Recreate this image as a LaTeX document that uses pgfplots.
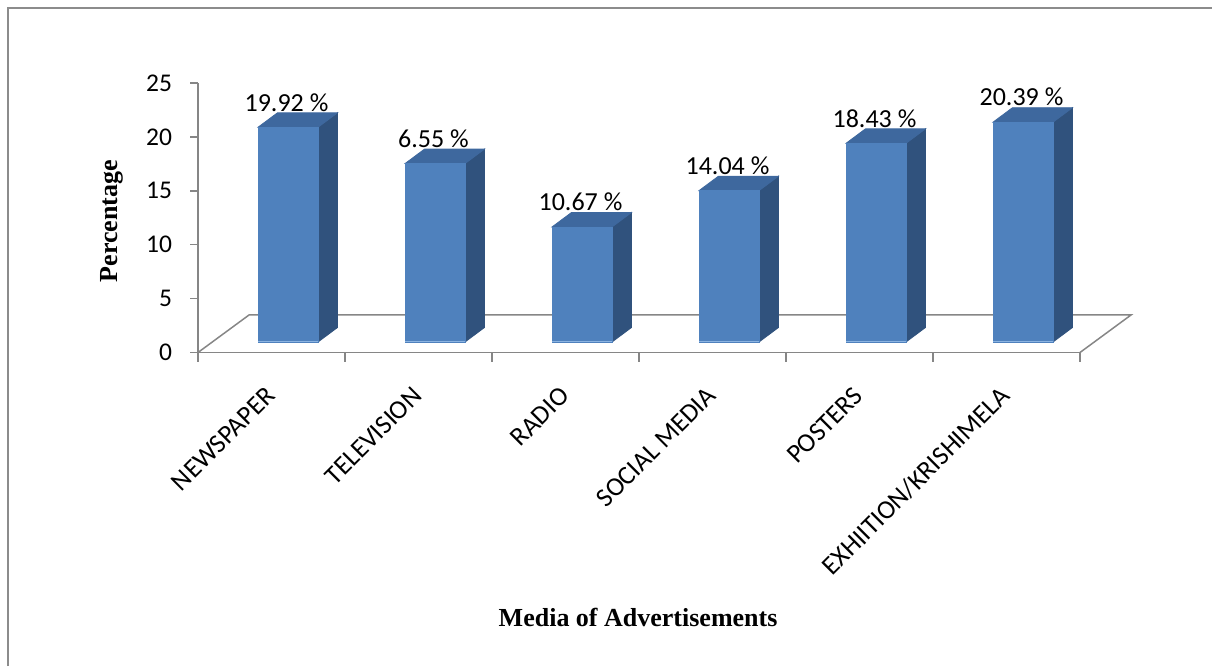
\documentclass[border=0pt]{standalone}
\usepackage{pgfplots}
\pgfplotsset{compat=1.18}
\usepackage{pgfplotstable}
\usepackage{fontspec}
\setmainfont{Carlito}
\newfontfamily\timesfont{Liberation Serif}
\definecolor{barfront}{RGB}{79,129,189}
\definecolor{bartop}{RGB}{62,104,158}
\definecolor{barside}{RGB}{48,82,125}
\definecolor{barlight}{RGB}{140,180,225}
\definecolor{axgray}{RGB}{134,134,134}
\definecolor{framegray}{RGB}{140,140,140}
\pgfdeclareplotmark{blank}{}

\pgfplotstableread{
x y lab
0 19.92 {19.92 \%}
1 16.55 {6.55 \%}
2 10.67 {10.67 \%}
3 14.04 {14.04 \%}
4 18.43 {18.43 \%}
5 20.39 {20.39 \%}
}\datatable

\begin{document}
\begin{tikzpicture}
\useasboundingbox (0,0) rectangle (606pt,333pt);
\draw[framegray, line width=1pt] (4pt,0) -- (4pt,329pt) -- (606pt,329pt);
\begin{axis}[
  at={(99pt,156.75pt)}, anchor=south west,
  scale only axis, width=441pt, height=134.75pt,
  xmin=-0.5, xmax=5.5, ymin=0, ymax=25,
  axis x line=bottom, axis y line=left,
  axis line style={-, draw=axgray, line width=0.75pt},
  tick align=outside,
  tick style={axgray, line width=0.75pt},
  ytick={0,5,...,25},
  major tick length=4pt,
  xtick={0,...,5},
  xticklabels={NEWSPAPER, TELEVISION, RADIO, SOCIAL MEDIA, POSTERS, EXHIITION/KRISHIMELA},
  major x tick style={draw=none},
  minor xtick={-0.5,0.5,...,5.5},
  minor tick length=4.5pt,
  xticklabel style={xshift=2pt, yshift=-13pt, rotate=45, anchor=east, font=\fontsize{13.25}{15}\selectfont},
  yticklabel style={xshift=-5.5pt, font=\fontsize{12.75}{15}\selectfont},
  /pgf/number format/assume math mode=true,
  xlabel={\timesfont\bfseries Media of Advertisements},
  ylabel={\timesfont\bfseries Percentage},
  xlabel style={at={(axis description cs:0.499,-0.983)}, anchor=center, font=\fontsize{13}{15}\selectfont},
  ylabel style={at={(axis description cs:-0.0975,0.488)}, anchor=center, font=\fontsize{13}{15}\selectfont},
  clip=false,
]
\draw[axgray, line width=0.75pt] (axis cs:-0.5,0) -- (axis cs:-0.153,3.48) -- (axis cs:5.847,3.48) -- (axis cs:5.5,0);
\addplot[scatter, only marks, mark=blank,
  visualization depends on={\thisrow{y} \as \hval},
  scatter/@pre marker code/.code={%
    \pgfmathsetmacro\hh{\hval*5.39}%
    \pgfmathsetmacro\yb{5.25-\hh}%
    \pgfmathsetmacro\ybb{\yb+7.25}%
    \pgfmathsetmacro\ybl{\yb+0.4}%
    \fill[barside] (23.25pt,\yb pt) -- (33pt,\ybb pt) -- (33pt,12.5pt) -- (23.25pt,5.25pt) -- cycle;
    \fill[bartop] (-6.75pt,5.25pt) -- (23.25pt,5.25pt) -- (33pt,12.5pt) -- (3pt,12.5pt) -- cycle;
    \fill[barfront] (-6.75pt,\yb pt) rectangle (23.25pt,5.25pt);
    \draw[barlight, line width=0.7pt] (-6.75pt,\ybl pt) -- (23.25pt,\ybl pt);
  },
  scatter/@post marker code/.code={},
] table[x=x, y=y] {\datatable};
\addplot[draw=none, mark=none, point meta=explicit symbolic,
  nodes near coords,
  every node near coord/.append style={anchor=center, xshift=7.5pt, yshift=17.75pt, font=\fontsize{13}{15}\selectfont, inner sep=0pt},
] table[x=x, y=y, meta=lab] {\datatable};
\end{axis}
\end{tikzpicture}
\end{document}
